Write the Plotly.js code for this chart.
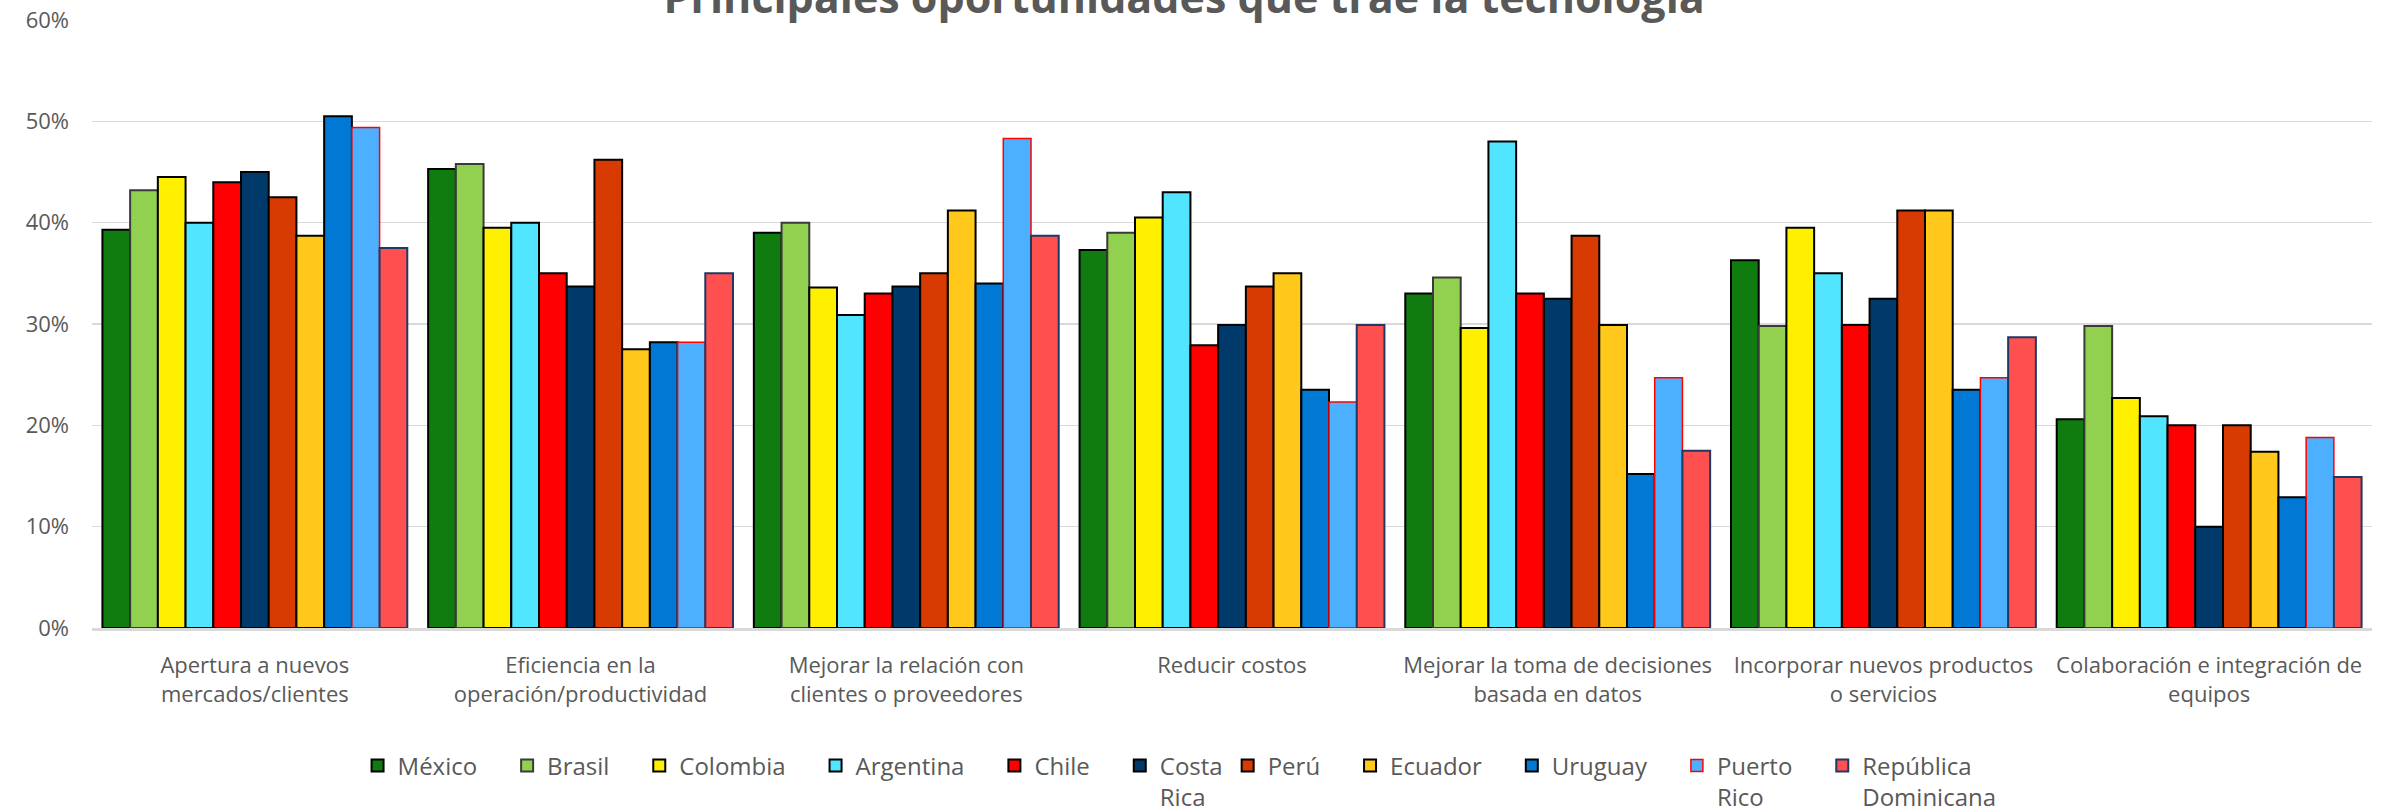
<!DOCTYPE html>
<html>
<head>
<meta charset="utf-8">
<script src="https://cdn.plot.ly/plotly-3.0.1.min.js"></script>
<style>
  html, body { margin: 0; padding: 0; background: #ffffff; }
  #chart { width: 2400px; height: 810px; }
</style>
</head>
<body>
<div id="chart"></div>
<script>
// Categorías (oportunidades) en el eje X
const categorias = [
  "Apertura a nuevos<br>mercados/clientes",
  "Eficiencia en la<br>operación/productividad",
  "Mejorar la relación con<br>clientes o proveedores",
  "Reducir costos",
  "Mejorar la toma de decisiones<br>basada en datos",
  "Incorporar nuevos productos<br>o servicios",
  "Colaboración e integración de<br>equipos"
];

// Porcentaje de empresas por país (%)
const mexico     = [39.3, 45.3, 39.0, 37.3, 33.0, 36.3, 20.6];
const brasil     = [43.2, 45.8, 40.0, 39.0, 34.6, 29.8, 29.8];
const colombia   = [44.5, 39.5, 33.6, 40.5, 29.6, 39.5, 22.7];
const argentina  = [40.0, 40.0, 30.9, 43.0, 48.0, 35.0, 20.9];
const chile      = [44.0, 35.0, 33.0, 27.9, 33.0, 29.9, 20.0];
const costaRica  = [45.0, 33.7, 33.7, 29.9, 32.5, 32.5, 10.0];
const peru       = [42.5, 46.2, 35.0, 33.7, 38.7, 41.2, 20.0];
const ecuador    = [38.7, 27.5, 41.2, 35.0, 29.9, 41.2, 17.4];
const uruguay    = [50.5, 28.2, 34.0, 23.5, 15.2, 23.5, 12.9];
const puertoRico = [49.4, 28.2, 48.3, 22.3, 24.7, 24.7, 18.8];
const repDom     = [37.5, 35.0, 38.7, 29.9, 17.5, 28.7, 14.9];

// Nombres de la leyenda
const paises = ["México", "Brasil", "Colombia", "Argentina", "Chile", "Costa<br>Rica",
                "Perú", "Ecuador", "Uruguay", "Puerto<br>Rico", "República<br>Dominicana"];
const series = [mexico, brasil, colombia, argentina, chile, costaRica,
                peru, ecuador, uruguay, puertoRico, repDom];

// Espacio extra tras algunas entradas de la leyenda
const NB = "\u00a0\u00a0\u00a0\u00a0";
const etiquetas = paises.map((p, i) => {
  if (i === 5 || i === 10) return p;
  const partes = p.split("<br>");
  partes[0] = partes[0] + NB;
  return partes.join("<br>");
});

// Relleno y borde de cada país
const rellenos = ["#107C10", "#92D050", "#FFF000", "#52E5FF", "#FF0000", "#003A6A",
                  "#D83B01", "#FFC81A", "#0078D4", "#4DB0FF", "#FF5050"];
const bordes   = ["#000000", "#3A3A3A", "#000000", "#000000", "#000000", "#000000",
                  "#000000", "#000000", "#000000", "#FF0000", "#203864"];

const trazas = series.map((vals, i) => ({
  type: "bar",
  name: etiquetas[i],
  x: categorias,
  y: vals,
  marker: {
    color: rellenos[i],
    line: { color: bordes[i], width: i === 9 ? 1.5 : 2 }
  },
  hovertemplate: "%{y:.1f}%<extra>" + paises[i] + "</extra>"
}));

const fuente = "'Open Sans', 'Noto Sans', sans-serif";
const gris = "#595959";

const layout = {
  width: 2400,
  height: 810,
  paper_bgcolor: "#ffffff",
  plot_bgcolor: "#ffffff",
  margin: { l: 92, r: 28, t: 20, b: 182, autoexpand: false },
  barmode: "group",
  bargap: 0.064,
  bargroupgap: 0,
  font: { family: fuente, size: 22, color: gris },
  title: {
    text: "<b>Principales oportunidades que trae la tecnología</b>",
    font: { family: fuente, size: 43, color: gris },
    xref: "paper",
    x: 0.479,
    xanchor: "center",
    yref: "container",
    y: 0.9843,
    yanchor: "bottom"
  },
  xaxis: {
    type: "category",
    showgrid: false,
    showline: true,
    linecolor: "#D9D9D9",
    linewidth: 2.5,
    ticks: "",
    tickfont: { family: fuente, size: 22, color: gris },
    ticklabelstandoff: 16
  },
  yaxis: {
    range: [0, 60],
    dtick: 10,
    ticksuffix: "%",
    showgrid: true,
    gridcolor: "#D9D9D9",
    gridwidth: 1.5,
    zeroline: false,
    showline: false,
    ticks: "",
    tickfont: { family: fuente, size: 22, color: gris },
    ticklabelstandoff: 22
  },
  legend: {
    orientation: "h",
    x: 0.477,
    xanchor: "center",
    y: -0.19,
    yanchor: "top",
    valign: "top",
    font: { family: fuente, size: 24, color: gris },
    itemwidth: 30,
    traceorder: "normal",
    bgcolor: "rgba(0,0,0,0)"
  },
  showlegend: true
};

Plotly.newPlot("chart", trazas, layout, { displayModeBar: false, staticPlot: true });
</script>
</body>
</html>
